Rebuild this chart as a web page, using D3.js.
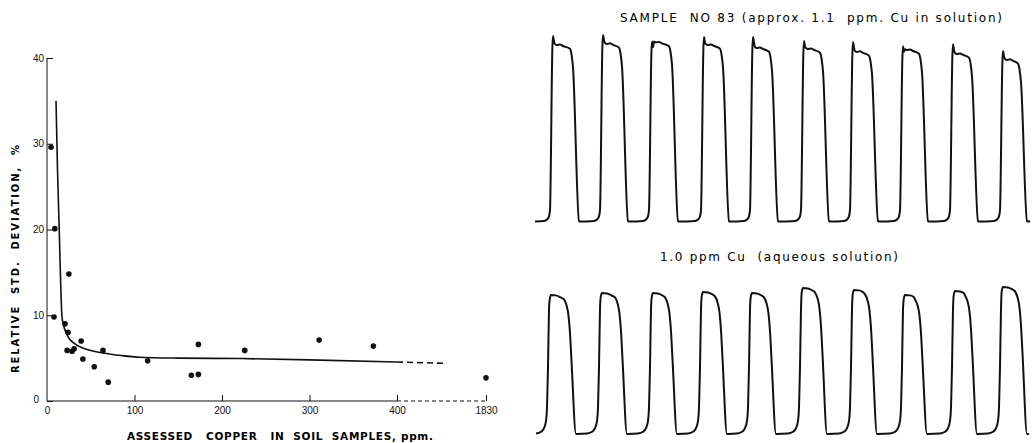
<!DOCTYPE html>
<meta charset="utf-8">
<style>
body { margin: 0; background: #fff; }
svg { display: block; font-family: "DejaVu Sans", sans-serif; }
.axis text { font-size: 10px; fill: #111; }
.axis line { stroke: #111; }
.fit { fill: none; stroke: #111; stroke-width: 1.6px; }
.trace { fill: none; stroke: #111; stroke-width: 2px; stroke-linejoin: round; }
</style>
<svg width="1035" height="443"></svg>
<script src="https://d3js.org/d3.v7.min.js"></script>
<script>

// left panel: relative std deviation vs assessed copper
var copperPpm = [4.6, 9, 8, 25, 20.6, 24, 39, 23, 28.6, 31, 41, 54, 64, 70, 115, 165, 173, 173, 226, 311, 373, 1830];
var relStd    = [29.6, 20.1, 9.8, 14.8, 9.0, 8.0, 7.0, 5.9, 5.8, 6.1, 4.9, 4.0, 5.9, 2.2, 4.7, 3.0, 3.1, 6.6, 5.9, 7.1, 6.4, 2.7];

// fitted curve (solid part, then dashed extension)
var fitPpm = [10.3, 12, 13.7, 15, 16, 17, 19, 22, 26, 30, 40, 50, 64, 85, 106, 150, 221, 300, 400];
var fitStd = [35, 27, 21, 16, 12.5, 10, 8.8, 7.9, 7.2, 6.8, 6.2, 5.9, 5.6, 5.3, 5.1, 5.0, 4.95, 4.8, 4.55];
var fitDashPpm = [400, 1139];
var fitDashStd = [4.55, 4.4];

var yTicks = [0, 10, 20, 30, 40];
var xTicks = [0, 100, 200, 300, 400, 1830];

// right panel: recorder traces (time in chart units, signal in % of full scale)
var sampleRise    = [18, 68, 117, 169, 218, 269, 318, 368, 418, 468];
var sampleFall    = [44, 93, 143, 194, 243, 294, 343, 393, 443, 492];
var sampleSpike   = [99.5, 100, 96.5, 98.9, 98.9, 96.8, 96.2, 94, 95, 91.4];
var samplePlateau = [94.6, 95.2, 96, 94.6, 93, 92.5, 90.9, 91.9, 89.8, 86.6];

var aqueousRise = [15, 66, 117, 167, 216, 267, 318, 369, 419, 467];
var aqueousFall = [41, 92, 142, 192, 241, 292, 342, 392, 442, 492];
var aqueousTop  = [94.6, 95.9, 95.9, 96.6, 95.9, 99.3, 98, 94.6, 97.3, 100];

var svg = d3.select("svg");

// ---------- left chart ----------
var x = d3.scaleLinear().domain([0, 400, 1830]).range([47, 397, 486]);
var y = d3.scaleLinear().domain([0, 40]).range([401, 58]);

var left = svg.append("g");

var yAxis = left.append("g")
    .attr("class", "axis")
    .attr("transform", "translate(" + x(0) + ",0)")
    .call(d3.axisLeft(y).tickValues(yTicks).tickSize(-6).tickSizeOuter(0).tickPadding(3));
yAxis.select(".domain").remove();
yAxis.selectAll(".tick").filter(function(d) { return d === 0; })
    .select("text").attr("x", -8).attr("dy", "0.1em");

var xAxis = left.append("g")
    .attr("class", "axis")
    .attr("transform", "translate(0," + y(0) + ")")
    .call(d3.axisBottom(x).tickValues(xTicks).tickSize(-6).tickSizeOuter(0).tickPadding(6)
      .tickFormat(d3.format("d")));
xAxis.select(".domain").remove();
xAxis.selectAll(".tick").filter(function(d) { return d === 0; }).select("line").remove();

left.append("line")
    .attr("x1", x(0)).attr("x2", x(0))
    .attr("y1", y(0)).attr("y2", y(40))
    .attr("stroke", "#111");
left.append("line")
    .attr("x1", x(0)).attr("x2", x(400))
    .attr("y1", y(0)).attr("y2", y(0))
    .attr("stroke", "#111");
left.append("line")
    .attr("x1", x(400)).attr("x2", x(1830))
    .attr("y1", y(0)).attr("y2", y(0))
    .attr("stroke", "#111")
    .attr("stroke-dasharray", "4,3");

var fitLine = d3.line()
    .x(function(d) { return x(d[0]); })
    .y(function(d) { return y(d[1]); })
    .curve(d3.curveMonotoneX);

left.append("path")
    .attr("class", "fit")
    .attr("d", fitLine(d3.zip(fitPpm, fitStd)));
left.append("path")
    .attr("class", "fit")
    .attr("stroke-dasharray", "6,4")
    .attr("d", fitLine(d3.zip(fitDashPpm, fitDashStd)));

left.append("g")
  .selectAll("circle")
  .data(d3.zip(copperPpm, relStd))
  .enter().append("circle")
    .attr("cx", function(d) { return x(d[0]); })
    .attr("cy", function(d) { return y(d[1]); })
    .attr("r", 2.8)
    .attr("fill", "#111");

left.append("text")
    .attr("transform", "translate(19,259) rotate(-90)")
    .attr("text-anchor", "middle")
    .attr("font-size", 10)
    .attr("font-weight", "bold")
    .attr("textLength", 228)
    .attr("lengthAdjust", "spacing")
    .style("white-space", "pre")
    .text("RELATIVE  STD.  DEVIATION,  %");

left.append("text")
    .attr("x", 280).attr("y", 440)
    .attr("text-anchor", "middle")
    .attr("font-size", 10.5)
    .attr("font-weight", "bold")
    .attr("textLength", 306)
    .attr("lengthAdjust", "spacing")
    .style("white-space", "pre")
    .text("ASSESSED   COPPER   IN  SOIL  SAMPLES, ppm.");

// ---------- right traces ----------
var t = d3.scaleLinear().domain([0, 500]).range([535, 1035]);
var ySample = d3.scaleLinear().domain([0, 100]).range([221, 35]);
var yAqueous = d3.scaleLinear().domain([0, 100]).range([434, 287]);

var samplePts = [[0, -0.3]];
sampleRise.forEach(function(r, i) {
  var f = sampleFall[i], s = sampleSpike[i], p = samplePlateau[i];
  samplePts.push([r - 9, 0], [r - 6, 0.8], [r - 4, 2.5], [r - 3, 6],
    [r - 0.6, s - 6], [r, s], [r + 1, s - 3], [r + 2, p + 0.5], [r + 4, p],
    [r + 7, p + 0.3], [r + 10, p - 0.5], [f - 9, p - 2], [f - 7.5, p - 5],
    [f - 6, p - 12], [f, 0], [f + 1, -0.3]);
});
samplePts.push([495, 0]);

var aqueousPts = [];
aqueousRise.forEach(function(r, i) {
  var f = aqueousFall[i], h = aqueousTop[i];
  aqueousPts.push([r - 14, 0.3], [r - 9, 1.5], [r - 6, 4], [r - 4, 9], [r - 3, 18],
    [r - 2, 45], [r - 1, 85], [r - 0.3, h - 3], [r + 1, h], [r + 6, h - 0.3],
    [r + 10, h - 1.5], [f - 12, h - 3], [f - 9.5, h - 7], [f - 7.5, h - 14],
    [f - 6, h - 26], [f - 4.5, h - 45], [f, 0], [f + 1, 0]);
});
aqueousPts.push([494, 0.2]);

svg.append("path")
    .attr("class", "trace")
    .attr("d", d3.line()
      .x(function(d) { return t(d[0]); })
      .y(function(d) { return ySample(d[1]); })
      .curve(d3.curveMonotoneX)(samplePts));

svg.append("path")
    .attr("class", "trace")
    .attr("d", d3.line()
      .x(function(d) { return t(d[0]); })
      .y(function(d) { return yAqueous(d[1]); })
      .curve(d3.curveMonotoneX)(aqueousPts));

svg.append("text")
    .attr("x", 811).attr("y", 22)
    .attr("text-anchor", "middle")
    .attr("font-size", 12)
    .attr("textLength", 382)
    .attr("lengthAdjust", "spacing")
    .style("white-space", "pre")
    .text("SAMPLE  NO 83 (approx. 1.1  ppm. Cu in solution)");

svg.append("text")
    .attr("x", 779).attr("y", 261)
    .attr("text-anchor", "middle")
    .attr("font-size", 12)
    .attr("textLength", 238)
    .attr("lengthAdjust", "spacing")
    .style("white-space", "pre")
    .text("1.0 ppm Cu  (aqueous solution)");

</script>
